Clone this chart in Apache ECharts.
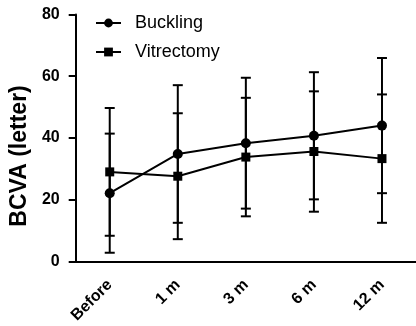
<!DOCTYPE html>
<html><head><meta charset="utf-8">
<script src="https://cdn.jsdelivr.net/npm/echarts@6/dist/echarts.min.js"></script>
<style>html,body{margin:0;padding:0;background:#fff}#c{width:416px;height:326px}</style>
</head><body><div id="c"></div>
<script>
const categories = ['Before', '1 m', '3 m', '6 m', '12 m'];
const bucklingMean = [22.1, 34.8, 38.3, 40.7, 44.0];
const bucklingSD = [19.3, 22.3, 21.2, 20.6, 21.9];
const vitrectomyMean = [29.0, 27.6, 33.8, 35.6, 33.3];
const vitrectomySD = [20.7, 20.4, 19.2, 19.5, 20.8];
const yMin = 0, yMax = 80, yStep = 20;

const FONT = '"Liberation Sans", Arial, sans-serif';

function errData(mean, sd) {
  return mean.map((m, i) => [i, m, sd[i]]);
}
function errorRender(params, api) {
  const x = api.value(0), m = api.value(1), s = api.value(2);
  const top = api.coord([x, m + s]);
  const bot = api.coord([x, m - s]);
  const hw = 5;
  const style = { stroke: '#000', lineWidth: 2, fill: null };
  return {
    type: 'group',
    children: [
      { type: 'line', shape: { x1: top[0], y1: top[1], x2: bot[0], y2: bot[1] }, style },
      { type: 'line', shape: { x1: top[0] - hw, y1: top[1], x2: top[0] + hw, y2: top[1] }, style },
      { type: 'line', shape: { x1: bot[0] - hw, y1: bot[1], x2: bot[0] + hw, y2: bot[1] }, style }
    ]
  };
}

const chart = echarts.init(document.getElementById('c'), null, { renderer: 'canvas' });
chart.setOption({
  backgroundColor: '#fff',
  animation: false,
  textStyle: { fontFamily: FONT, color: '#000' },
  grid: { left: 75, right: -1, top: 14.5, bottom: 64.5, containLabel: false },
  legend: {
    data: ['Buckling', 'Vitrectomy'],
    orient: 'vertical',
    left: 95, top: 14, padding: 0,
    itemWidth: 25, itemHeight: 11, itemGap: 11,
    textStyle: { fontSize: 18, color: '#000', fontFamily: FONT, padding: [0, 0, 0, 9] }
  },
  xAxis: {
    type: 'category',
    data: categories,
    boundaryGap: true,
    axisLine: { lineStyle: { color: '#000', width: 2 } },
    axisTick: { alignWithLabel: true, length: 7, lineStyle: { color: '#000', width: 2 } },
    axisLabel: { rotate: 45, margin: 21, fontSize: 16, fontWeight: 'bold', color: '#000', fontFamily: FONT }
  },
  yAxis: {
    type: 'value',
    min: yMin, max: yMax, interval: yStep,
    name: 'BCVA (letter)',
    nameLocation: 'middle',
    nameGap: 44,
    nameTextStyle: { fontSize: 23, fontWeight: 'bold', color: '#000', fontFamily: FONT, padding: [0, 36, 0, 0] },
    splitLine: { show: false },
    axisLine: { show: true, lineStyle: { color: '#000', width: 2 } },
    axisTick: { show: true, length: 7, lineStyle: { color: '#000', width: 2 } },
    axisLabel: { margin: 16, fontSize: 16, fontWeight: 'bold', color: '#000', fontFamily: FONT }
  },
  series: [
    { type: 'custom', name: 'BucklingErr', renderItem: errorRender, data: errData(bucklingMean, bucklingSD), encode: { x: 0, y: 1 }, z: 1 },
    { type: 'custom', name: 'VitrectomyErr', renderItem: errorRender, data: errData(vitrectomyMean, vitrectomySD), encode: { x: 0, y: 1 }, z: 1 },
    { type: 'line', name: 'Buckling', data: bucklingMean, symbol: 'circle', symbolSize: 10,
      lineStyle: { color: '#000', width: 2 }, itemStyle: { color: '#000' }, z: 3 },
    { type: 'line', name: 'Vitrectomy', data: vitrectomyMean, symbol: 'rect', symbolSize: 9,
      lineStyle: { color: '#000', width: 2 }, itemStyle: { color: '#000' }, z: 3 }
  ]
});
</script></body></html>
